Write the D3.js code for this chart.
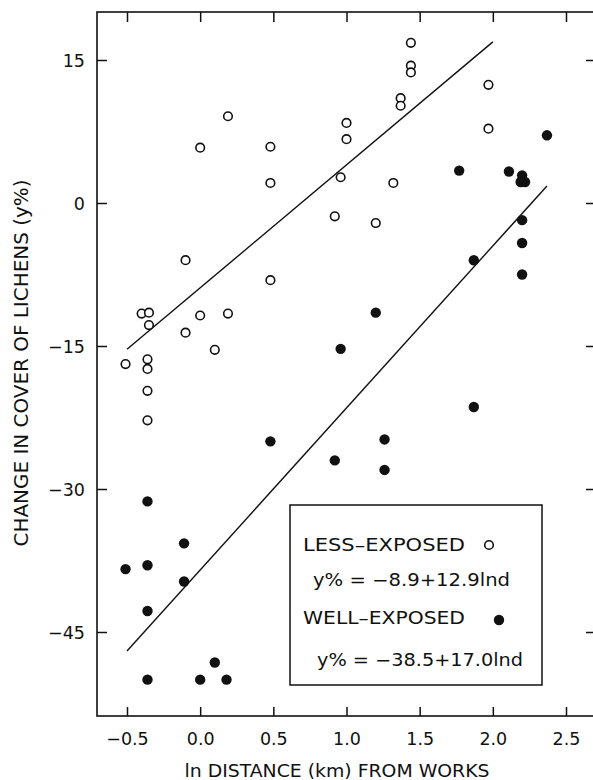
<!DOCTYPE html>
<html>
<head>
<meta charset="utf-8">
<script src="https://cdn.jsdelivr.net/npm/d3@7/dist/d3.min.js"></script>
<style>
  html, body { margin: 0; padding: 0; background: #fff; }
  svg { display: block; }
  text { font-family: "DejaVu Sans", sans-serif; fill: #111; }
</style>
</head>
<body>
<svg id="chart" width="593" height="780"></svg>
<script>
// ---- data ----
const lessX = [-0.51, -0.40, -0.35, -0.35, -0.36, -0.36, -0.36, -0.36, -0.10, -0.10,
               0.00, 0.00, 0.10, 0.19, 0.19, 0.48, 0.48, 0.48, 0.92, 0.96,
               1.00, 1.00, 1.20, 1.32, 1.37, 1.37, 1.44, 1.44, 1.44, 1.97, 1.97];
const lessY = [-16.9, -11.6, -11.5, -12.8, -16.4, -17.4, -19.7, -22.8, -6.0, -13.6,
               5.8, -11.8, -15.4, 9.1, -11.6, 5.9, 2.1, -8.1, -1.4, 2.7,
               8.4, 6.7, -2.1, 2.1, 11.0, 10.2, 16.8, 14.4, 13.7, 12.4, 7.8];
const wellX = [2.37, 1.77, 2.11, 2.20, 2.19, 2.22, 2.20, 2.20, 2.20, 1.87,
               1.20, 0.96, 0.48, 0.92, 1.26, 1.26, 1.87, -0.36, -0.11, -0.51,
               -0.36, -0.11, -0.36, 0.10, -0.36, 0.00, 0.18];
const wellY = [7.1, 3.4, 3.3, 2.9, 2.2, 2.2, -1.8, -4.2, -7.5, -6.0,
               -11.5, -15.3, -25.0, -27.0, -24.8, -28.0, -21.4, -31.3, -35.7, -38.4,
               -38.0, -39.7, -42.8, -48.2, -50.0, -50.0, -50.0];
const fitNames = ["less", "well"];
const fitIntercept = [-8.9, -38.5];
const fitSlope = [12.9, 17.0];
const fitFrom = [-0.5, -0.5];
const fitTo = [2.0, 2.37];
const xTicks = [-0.5, 0.0, 0.5, 1.0, 1.5, 2.0, 2.5];
const yTicks = [15, 0, -15, -30, -45];
const legendLabels = ["LESS\u2013EXPOSED", "y% = \u22128.9+12.9lnd", "WELL\u2013EXPOSED", "y% = \u221238.5+17.0lnd"];
const xTitle = "ln DISTANCE (km) FROM WORKS";
const yTitle = "CHANGE IN COVER OF LICHENS (y%)";

// ---- layout ----
const svg = d3.select("#chart");
const frame = {left: 97, top: 12, right: 594, bottom: 716};
const x = d3.scaleLinear().domain([-0.5, 2.5]).range([127, 566]);
const y = d3.scaleLinear().domain([15, -45]).range([60, 632]);
const ink = "#111";

// frame
svg.append("rect")
  .attr("x", frame.left).attr("y", frame.top)
  .attr("width", frame.right - frame.left).attr("height", frame.bottom - frame.top)
  .attr("fill", "none").attr("stroke", ink).attr("stroke-width", 1.6);

const fmtX = d => d3.format(".1f")(d).replace("-", "\u2212");
const fmtY = d => d3.format("d")(d).replace("-", "\u2212");

// bottom axis
const gB = svg.append("g").attr("transform", `translate(0,${frame.bottom})`)
  .call(d3.axisBottom(x).tickValues(xTicks).tickSize(-9).tickSizeOuter(0).tickFormat(fmtX));
gB.select(".domain").remove();
gB.selectAll("line").attr("stroke", ink).attr("stroke-width", 1.5);
gB.selectAll("text").attr("y", 29).attr("dy", 0)
  .style("font-family", "DejaVu Sans").style("font-size", "17.5px").attr("fill", ink);

// top axis
const gT = svg.append("g").attr("transform", `translate(0,${frame.top})`)
  .call(d3.axisTop(x).tickValues(xTicks).tickSize(-10).tickSizeOuter(0).tickFormat(""));
gT.select(".domain").remove();
gT.selectAll("line").attr("stroke", ink).attr("stroke-width", 1.5);

// left axis
const gL = svg.append("g").attr("transform", `translate(${frame.left},0)`)
  .call(d3.axisLeft(y).tickValues(yTicks).tickSize(-10).tickSizeOuter(0).tickFormat(fmtY));
gL.select(".domain").remove();
gL.selectAll("line").attr("stroke", ink).attr("stroke-width", 1.5);
gL.selectAll("text").attr("x", -12).attr("dy", "0.36em")
  .style("font-family", "DejaVu Sans").style("font-size", "17.5px").attr("fill", ink);

// right axis
const gR = svg.append("g").attr("transform", `translate(${frame.right},0)`)
  .call(d3.axisRight(y).tickValues(yTicks).tickSize(-8).tickSizeOuter(0).tickFormat(""));
gR.select(".domain").remove();
gR.selectAll("line").attr("stroke", ink).attr("stroke-width", 1.5);

// axis titles
svg.append("text").attr("x", 337).attr("y", 777).attr("text-anchor", "middle")
  .style("font-size", "18.5px").attr("textLength", 305).attr("lengthAdjust", "spacingAndGlyphs")
  .text(xTitle);
svg.append("text").attr("transform", "translate(28,363) rotate(-90)").attr("text-anchor", "middle")
  .style("font-size", "19.5px").attr("textLength", 367).attr("lengthAdjust", "spacingAndGlyphs")
  .text(yTitle);

// regression lines
fitNames.forEach((n, i) => {
  const pts = [fitFrom[i], fitTo[i]].map(v => [v, fitIntercept[i] + fitSlope[i] * v]);
  svg.append("path")
    .attr("d", d3.line().x(d => x(d[0])).y(d => y(d[1]))(pts))
    .attr("fill", "none").attr("stroke", ink).attr("stroke-width", 1.4);
});

// points
svg.append("g").selectAll("circle").data(lessX.map((v, i) => [v, lessY[i]])).join("circle")
  .attr("cx", d => x(d[0])).attr("cy", d => y(d[1])).attr("r", 4.3)
  .attr("fill", "#fff").attr("stroke", ink).attr("stroke-width", 1.6);
svg.append("g").selectAll("circle").data(wellX.map((v, i) => [v, wellY[i]])).join("circle")
  .attr("cx", d => x(d[0])).attr("cy", d => y(d[1])).attr("r", 5.2)
  .attr("fill", ink);

// legend
const lg = svg.append("g").attr("transform", "translate(290,505)");
lg.append("rect").attr("width", 252).attr("height", 180)
  .attr("fill", "#fff").attr("stroke", ink).attr("stroke-width", 1.5);
const lgX = [13, 23, 13, 27];
const lgY = [46, 81, 119, 161];
const lgW = [162, 197, 162, 206];
legendLabels.forEach((t, i) => {
  lg.append("text").attr("x", lgX[i]).attr("y", lgY[i])
    .style("font-size", "17px").attr("textLength", lgW[i]).attr("lengthAdjust", "spacingAndGlyphs")
    .text(t);
});
lg.append("circle").attr("cx", 199).attr("cy", 40).attr("r", 4.3)
  .attr("fill", "#fff").attr("stroke", ink).attr("stroke-width", 1.6);
lg.append("circle").attr("cx", 209).attr("cy", 115).attr("r", 5.2).attr("fill", ink);
</script>
</body>
</html>
